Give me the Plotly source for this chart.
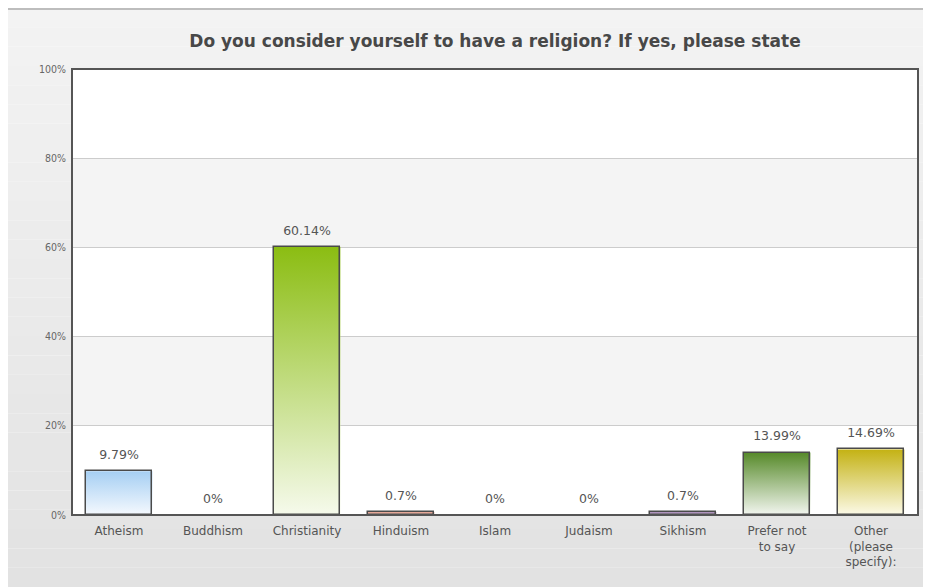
import plotly.graph_objects as go

# ---- data ----
categories = ["Atheism", "Buddhism", "Christianity", "Hinduism", "Islam",
              "Judaism", "Sikhism", "Prefer not<br>to say", "Other<br>(please<br>specify):"]
values = [9.79, 0, 60.14, 0.7, 0, 0, 0.7, 13.99, 14.69]
value_labels = ["9.79%", "0%", "60.14%", "0.7%", "0%", "0%", "0.7%", "13.99%", "14.69%"]
top_colors = ["#a6cff3", "#a6cff3", "#8bbd12", "#e3a08f", "#a6cff3",
              "#a6cff3", "#a98bb8", "#578a2a", "#c4b214"]
bottom_colors = ["#f5f9fe", "#f5f9fe", "#f6faec", "#f0c4b8", "#f5f9fe",
                 "#f5f9fe", "#c9b6d4", "#f3f6f0", "#fcfae8"]
y_ticks = [0, 20, 40, 60, 80, 100]
title_text = "Do you consider yourself to have a religion? If yes, please state"

# page body has an 8px default margin, so the figure is 8px smaller
W, H = 923, 579
ML, MR, MT, MB = 64, 13, 61, 72
PW, PH = W - ML - MR, H - MT - MB
bar_half = 0.355

fig = go.Figure()
idx = list(range(len(categories)))

# gradient fills (base axes)
for i, v in enumerate(values):
    if v <= 0:
        continue
    fig.add_trace(go.Scatter(
        x=[i - bar_half, i - bar_half, i + bar_half, i + bar_half, i - bar_half],
        y=[0, v, v, 0, 0],
        mode="lines", fill="toself", line=dict(width=0, color="rgba(0,0,0,0)"),
        fillgradient=dict(type="vertical",
                          colorscale=[[0, bottom_colors[i]], [1, top_colors[i]]]),
        hoverinfo="skip", showlegend=False, xaxis="x", yaxis="y"))

# bars (outline) on overlaid axes
fig.add_trace(go.Bar(
    x=idx, y=values, width=2 * bar_half,
    marker=dict(color="rgba(0,0,0,0)",
                line=dict(color="#4a4a4a", width=[1.5 if v > 0 else 0 for v in values])),
    showlegend=False, xaxis="x2", yaxis="y2",
    hovertext=value_labels, hoverinfo="text"))

# value labels
fig.add_trace(go.Scatter(
    x=idx, y=values, mode="markers+text", text=value_labels, textposition="top center",
    marker=dict(size=13, opacity=0),
    textfont=dict(family="DejaVu Sans", size=12.5, color="#555555"),
    showlegend=False, hoverinfo="skip", xaxis="x2", yaxis="y2"))

shapes = []
# background gradient in margins
n = 30
for k in range(n):
    t0 = k / n
    t1 = (k + 1) / n
    c = int(round(243 - (243 - 226) * (t0 + t1) / 2))
    yb0 = H - H * t1
    yb1 = H - H * t0
    shapes.append(dict(type="rect", xref="paper", yref="paper", layer="below",
                       x0=(0 - ML) / PW, x1=(W - ML) / PW + 0.01,
                       y0=(yb0 - MB) / PH, y1=(yb1 - MB) / PH,
                       fillcolor=f"rgb({c},{c},{c})", line=dict(width=0)))
# top gray line
shapes.append(dict(type="line", xref="paper", yref="paper", layer="below",
                   x0=(0 - ML) / PW, x1=(W - ML) / PW + 0.01,
                   y0=(H - 1 - MB) / PH, y1=(H - 1 - MB) / PH,
                   line=dict(color="#bdbdbd", width=2)))
# white plot area
shapes.append(dict(type="rect", xref="paper", yref="paper", layer="below",
                   x0=0, x1=1, y0=0, y1=1, fillcolor="#ffffff", line=dict(width=0)))
# alternate bands
for lo, hi in [(20, 40), (60, 80)]:
    shapes.append(dict(type="rect", xref="paper", yref="y", layer="below",
                       x0=0, x1=1, y0=lo, y1=hi, fillcolor="#f4f4f4", line=dict(width=0)))
# frame
shapes.append(dict(type="rect", xref="paper", yref="paper", layer="above",
                   x0=0, x1=1, y0=0, y1=1, line=dict(color="#555555", width=2)))

fig.update_layout(
    width=W, height=H,
    margin=dict(l=ML, r=MR, t=MT, b=MB),
    paper_bgcolor="#ffffff", plot_bgcolor="#ffffff",
    title=dict(text="<b>" + title_text + "</b>", x=(ML + PW / 2) / W, xanchor="center",
               y=1 - 33 / H, yanchor="middle",
               font=dict(family="DejaVu Sans", size=17, color="#484848")),
    xaxis=dict(range=[-0.5, len(categories) - 0.5], tickmode="array", tickvals=idx,
               ticktext=categories, showgrid=False, zeroline=False, showline=False,
               ticks="", ticklabelstandoff=7,
               tickfont=dict(family="DejaVu Sans", size=12, color="#555555"),
               fixedrange=True),
    yaxis=dict(range=[0, 100], tickmode="array", tickvals=y_ticks,
               ticktext=[f"{t}%" for t in y_ticks], showgrid=True, gridcolor="#cccccc",
               gridwidth=1, zeroline=False, showline=False, ticks="", ticklabelstandoff=5,
               tickfont=dict(family="DejaVu Sans Condensed", size=10.5, color="#666666"),
               fixedrange=True),
    xaxis2=dict(range=[-0.5, len(categories) - 0.5], overlaying="x", visible=False,
                fixedrange=True),
    yaxis2=dict(range=[0, 100], overlaying="y", visible=False, fixedrange=True),
    shapes=shapes,
    bargap=0,
)

fig.write_html("out.html")
